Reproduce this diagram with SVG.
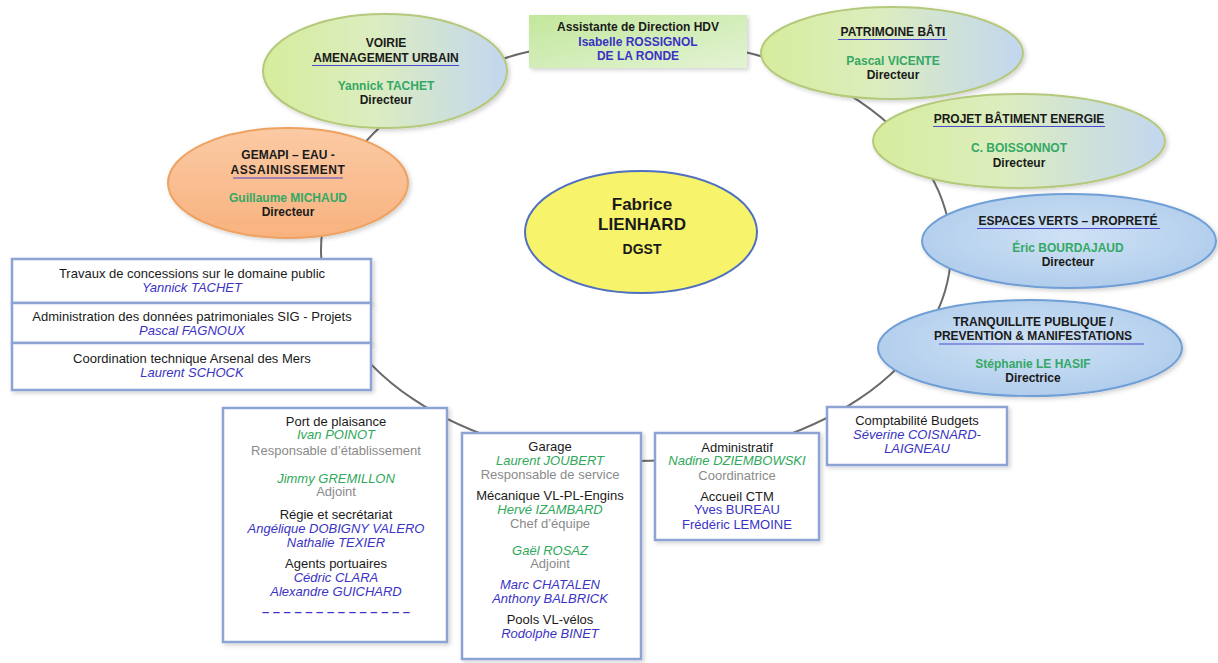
<svg xmlns="http://www.w3.org/2000/svg" width="1218" height="663" viewBox="0 0 1218 663">
<style>
text{font-family:"Liberation Sans",Arial,sans-serif;text-anchor:middle}
.t{font-size:12px;font-weight:bold;fill:#1a1a1a}
.gn{font-size:12px;font-weight:bold;fill:#34a864}
.bn{font-size:12px;font-weight:bold;fill:#3a33c4}
.bx{font-size:13px;fill:#1a1a1a}
.gr{font-size:13px;fill:#8a8a8a}
.gi{font-size:13px;font-style:italic;fill:#2fa85a}
.bi{font-size:13px;font-style:italic;fill:#3a33c4}
.bu{font-size:13px;fill:#3a33c4}
.box{fill:#fff;stroke:#8da3d3;stroke-width:2.5;filter:url(#sh)}
.ul{stroke:#4a4ad0;stroke-width:1.2}
.conn{fill:none;stroke:#6a6a6a;stroke-width:2}
</style>
<defs>
<filter id="sh" x="-10%" y="-10%" width="125%" height="125%">
<feDropShadow dx="2" dy="2" stdDeviation="2" flood-color="#000" flood-opacity="0.18"/>
</filter>
<linearGradient id="gGB" x1="0" y1="0" x2="1" y2="0">
<stop offset="0" stop-color="#d6ec9c"/>
<stop offset="0.45" stop-color="#dcedbf"/>
<stop offset="1" stop-color="#c2d6f0"/>
</linearGradient>
<linearGradient id="gOr" x1="0" y1="0" x2="0" y2="1">
<stop offset="0" stop-color="#fbcaa4"/>
<stop offset="1" stop-color="#f8b27e"/>
</linearGradient>
<radialGradient id="gBl" cx="0.5" cy="0.45" r="0.6">
<stop offset="0" stop-color="#cfe2f5"/>
<stop offset="1" stop-color="#aecbeb"/>
</radialGradient>
<linearGradient id="gAs" x1="0" y1="0" x2="1" y2="1">
<stop offset="0" stop-color="#c2e79c"/>
<stop offset="1" stop-color="#e3f3d4"/>
</linearGradient>
</defs>
<rect width="1218" height="663" fill="#fff"/>

<g id="connectors">
<ellipse class="conn" cx="636" cy="250" rx="315" ry="211"/>
</g>

<g id="dgst">
<ellipse cx="641" cy="232" rx="116" ry="61" fill="#f7f36a" stroke="#4f6fc0" stroke-width="2"/>
<text x="642" y="210" style="font-size:17px;font-weight:bold;fill:#1a1a1a">Fabrice</text>
<text x="642" y="230" style="font-size:17px;font-weight:bold;fill:#1a1a1a">LIENHARD</text>
<text x="642" y="254" style="font-size:14px;font-weight:bold;fill:#1a1a1a">DGST</text>
</g>

<g id="voirie">
<ellipse cx="385" cy="71" rx="122" ry="57" fill="url(#gGB)" stroke="#b5c97c" stroke-width="2" filter="url(#sh)"/>
<text class="t" x="386" y="47">VOIRIE</text>
<text class="t" x="386" y="62">AMENAGEMENT URBAIN</text>
<line class="ul" x1="312" y1="65.5" x2="459" y2="65.5"/>
<text class="gn" x="386" y="90">Yannick TACHET</text>
<text class="t" x="386" y="104">Directeur</text>
</g>

<g id="assistante">
<rect x="529" y="15" width="218" height="53" fill="url(#gAs)" filter="url(#sh)"/>
<text class="t" x="638" y="31">Assistante de Direction HDV</text>
<text class="bn" x="638" y="46">Isabelle ROSSIGNOL</text>
<text class="bn" x="638" y="60">DE LA RONDE</text>
</g>

<g id="patrimoine">
<ellipse cx="892" cy="53" rx="131" ry="46" fill="url(#gGB)" stroke="#b5c97c" stroke-width="2" filter="url(#sh)"/>
<text class="t" x="893" y="36">PATRIMOINE BÂTI</text>
<line class="ul" x1="838" y1="39.5" x2="947" y2="39.5"/>
<text class="gn" x="893" y="65">Pascal VICENTE</text>
<text class="t" x="893" y="79">Directeur</text>
</g>

<g id="projet">
<ellipse cx="1019" cy="141" rx="146" ry="47" fill="url(#gGB)" stroke="#b5c97c" stroke-width="2" filter="url(#sh)"/>
<text class="t" x="1019" y="123">PROJET BÂTIMENT ENERGIE</text>
<line class="ul" x1="933" y1="126.5" x2="1105" y2="126.5"/>
<text class="gn" x="1019" y="152">C. BOISSONNOT</text>
<text class="t" x="1019" y="167">Directeur</text>
</g>

<g id="espaces">
<ellipse cx="1069" cy="241" rx="147" ry="47" fill="url(#gBl)" stroke="#6f9fd6" stroke-width="2" filter="url(#sh)"/>
<text class="t" x="1068" y="225">ESPACES VERTS – PROPRETÉ</text>
<line class="ul" x1="977" y1="228.5" x2="1160" y2="228.5"/>
<text class="gn" x="1068" y="252">Éric BOURDAJAUD</text>
<text class="t" x="1068" y="266">Directeur</text>
</g>

<g id="tranquillite">
<ellipse cx="1030" cy="348" rx="152" ry="48" fill="url(#gBl)" stroke="#6f9fd6" stroke-width="2" filter="url(#sh)"/>
<text class="t" x="1033" y="326">TRANQUILLITE PUBLIQUE /</text>
<text class="t" x="1033" y="340">PREVENTION &amp; MANIFESTATIONS</text>
<line class="ul" x1="939" y1="344" x2="1144" y2="344"/>
<text class="gn" x="1033" y="368">Stéphanie LE HASIF</text>
<text class="t" x="1033" y="382">Directrice</text>
</g>

<g id="gemapi">
<ellipse cx="288" cy="183" rx="120" ry="55" fill="url(#gOr)" stroke="#eea262" stroke-width="2" filter="url(#sh)"/>
<text class="t" x="288" y="159">GEMAPI – EAU -</text>
<text class="t" x="288" y="174" letter-spacing="0.6">ASSAINISSEMENT</text>
<line class="ul" x1="233" y1="178" x2="343" y2="178"/>
<text class="gn" x="288" y="202">Guillaume MICHAUD</text>
<text class="t" x="288" y="216">Directeur</text>
</g>

<g id="travaux">
<rect class="box" x="12" y="259" width="359" height="44"/>
<text class="bx" x="192" y="277.5">Travaux de concessions sur le domaine public</text>
<text class="bi" x="192" y="291.5">Yannick TACHET</text>
</g>
<g id="sig">
<rect class="box" x="12" y="303" width="359" height="40"/>
<text class="bx" x="192" y="320.5">Administration des données patrimoniales SIG - Projets</text>
<text class="bi" x="192" y="334.5">Pascal FAGNOUX</text>
</g>
<g id="arsenal">
<rect class="box" x="12" y="343" width="359" height="47"/>
<text class="bx" x="192" y="362.5">Coordination technique Arsenal des Mers</text>
<text class="bi" x="192" y="376.5">Laurent SCHOCK</text>
</g>

<g id="port">
<rect class="box" x="223" y="408" width="224" height="234"/>
<text class="bx" x="336" y="426">Port de plaisance</text>
<text class="gi" x="336" y="439">Ivan POINOT</text>
<text class="gr" x="336" y="455">Responsable d’établissement</text>
<text class="gi" x="336" y="483">Jimmy GREMILLON</text>
<text class="gr" x="336" y="496">Adjoint</text>
<text class="bx" x="336" y="519">Régie et secrétariat</text>
<text class="bi" x="336" y="533">Angélique DOBIGNY VALERO</text>
<text class="bi" x="336" y="547">Nathalie TEXIER</text>
<text class="bx" x="336" y="568">Agents portuaires</text>
<text class="bi" x="336" y="582">Cédric CLARA</text>
<text class="bi" x="336" y="596">Alexandre GUICHARD</text>
<text class="bu" x="336" y="616" style="font-weight:bold">– – – – – – – – – – – – – –</text>
</g>

<g id="garage">
<rect class="box" x="462" y="433" width="179" height="226"/>
<text class="bx" x="550" y="451">Garage</text>
<text class="gi" x="550" y="465">Laurent JOUBERT</text>
<text class="gr" x="550" y="479">Responsable de service</text>
<text class="bx" x="550" y="500">Mécanique VL-PL-Engins</text>
<text class="gi" x="550" y="514">Hervé IZAMBARD</text>
<text class="gr" x="550" y="528">Chef d’équipe</text>
<text class="gi" x="550" y="555">Gaël ROSAZ</text>
<text class="gr" x="550" y="568">Adjoint</text>
<text class="bi" x="550" y="589">Marc CHATALEN</text>
<text class="bi" x="550" y="603">Anthony BALBRICK</text>
<text class="bx" x="550" y="624">Pools VL-vélos</text>
<text class="bi" x="550" y="638">Rodolphe BINET</text>
</g>

<g id="administratif">
<rect class="box" x="655" y="433" width="164" height="107"/>
<text class="bx" x="737" y="452">Administratif</text>
<text class="gi" x="737" y="465">Nadine DZIEMBOWSKI</text>
<text class="gr" x="737" y="480">Coordinatrice</text>
<text class="bx" x="737" y="501">Accueil CTM</text>
<text class="bu" x="737" y="514">Yves BUREAU</text>
<text class="bu" x="737" y="529">Frédéric LEMOINE</text>
</g>

<g id="comptabilite">
<rect class="box" x="827" y="407" width="180" height="58"/>
<text class="bx" x="917" y="425">Comptabilité Budgets</text>
<text class="bi" x="917" y="439">Séverine COISNARD-</text>
<text class="bi" x="917" y="453">LAIGNEAU</text>
</g>
</svg>
